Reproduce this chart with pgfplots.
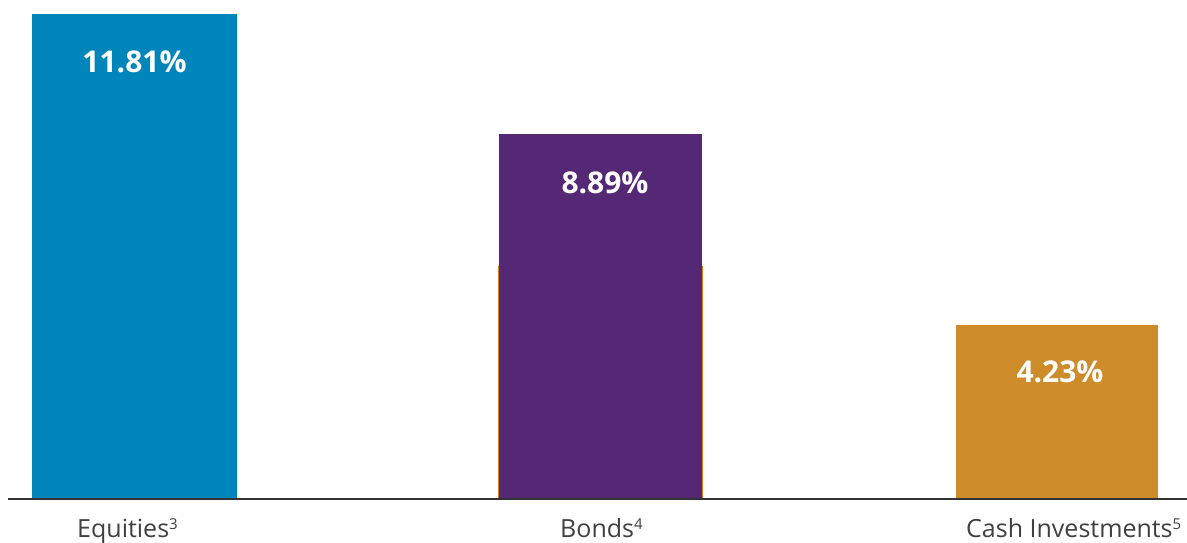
\documentclass[border=0pt]{standalone}
\usepackage{pgfplots}
\pgfplotsset{compat=1.18}
\usepackage{fontspec}
\setmainfont{Open Sans}
\definecolor{eqc}{HTML}{0085BA}
\definecolor{bdc}{HTML}{552876}
\definecolor{csc}{HTML}{CE8B2A}
\definecolor{edgec}{HTML}{D9820F}
\definecolor{txtc}{HTML}{404040}
\definecolor{axc}{HTML}{333333}
\newcommand{\supnum}[1]{\raisebox{7.5pt}{\fontsize{15}{15}\selectfont #1}}
\begin{document}
\begin{tikzpicture}
\begin{axis}[
  scale only axis, width=1179pt, height=485pt,
  xmin=8, xmax=1187, ymin=0, ymax=11.81,
  axis x line=bottom, axis y line=none,
  x axis line style={-, draw=axc, line width=1.3pt},
  xtick=\empty, ytick=\empty,
  clip=false,
  ybar, bar shift=0pt,
  /pgf/number format/assume math mode=true,
  valuelab/.style={
    nodes near coords={\pgfmathprintnumber[fixed,precision=2,fixed zerofill]{\pgfplotspointmeta}\%},
    point meta=y,
    every node near coord/.append style={anchor=base, text=white, font=\bfseries\fontsize{30}{35}\selectfont},
  },
]
\addplot[fill=eqc, draw=none, bar width=205, valuelab,
  every node near coord/.append style={yshift=-59pt}] coordinates {(134.5,11.81)};
\addplot[fill=bdc, draw=edgec, line width=1pt, bar width=204] coordinates {(600,5.65)};
\addplot[fill=bdc, draw=none, bar width=203, valuelab,
  every node near coord/.append style={yshift=-60pt, xshift=5pt}] coordinates {(600,8.89)};
\addplot[fill=csc, draw=none, bar width=202, valuelab,
  every node near coord/.append style={yshift=-57pt, xshift=3pt}] coordinates {(1057,4.23)};
\draw[axc, line width=1.3pt] (axis cs:8,0) -- (axis cs:1187,0);
\begin{scope}[every node/.style={anchor=base west, inner sep=0pt, text=txtc, font=\fontsize{25}{30}\selectfont}]
\node at ([yshift=-38pt]axis cs:77,0) {Equities\supnum{3}};
\node at ([yshift=-38pt]axis cs:560,0) {Bonds\supnum{4}};
\node at ([yshift=-38pt]axis cs:966,0) {Cash Investments\supnum{5}};
\end{scope}
\end{axis}
\pgfresetboundingbox
\path ([xshift=-8pt,yshift=-43pt]current axis.south west) rectangle ([yshift=14pt]current axis.north east);
\end{tikzpicture}
\end{document}
